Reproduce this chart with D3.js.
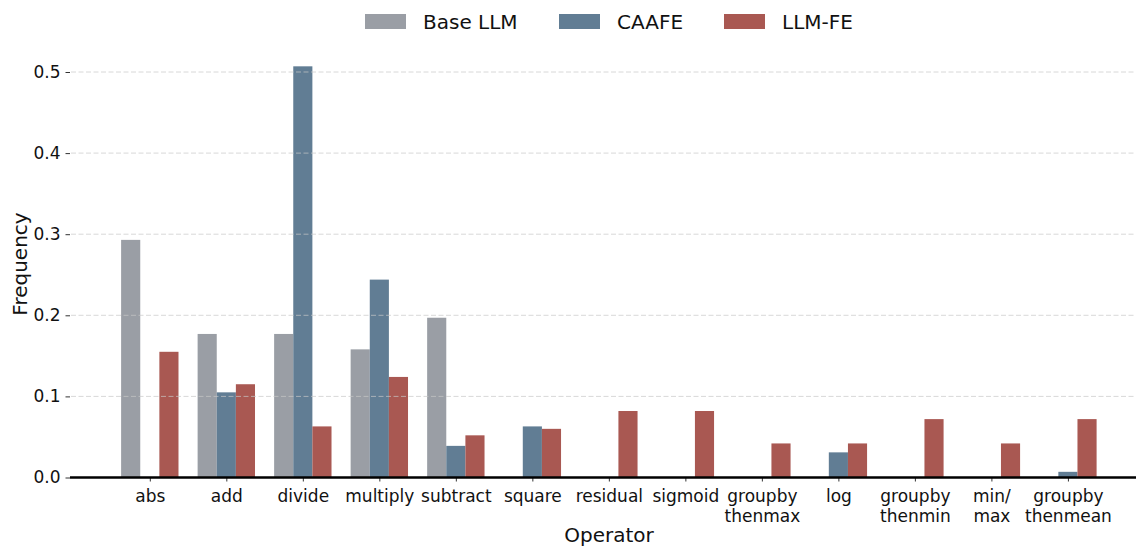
<!DOCTYPE html>
<html><head><meta charset="utf-8">
<script src="https://cdn.jsdelivr.net/npm/d3@7"></script>
<style>body{margin:0;background:#fff;} text{font-family:"DejaVu Sans",sans-serif;fill:#111;}</style>
</head><body><svg id="c" width="1137" height="548"></svg>
<script>
const categories = [["abs"],["add"],["divide"],["multiply"],["subtract"],["square"],["residual"],["sigmoid"],["groupby","thenmax"],["log"],["groupby","thenmin"],["min/","max"],["groupby","thenmean"]];
const seriesNames = ["Base LLM","CAAFE","LLM-FE"];
const baseLLM = [0.293,0.177,0.177,0.158,0.197,0,0,0,0,0,0,0,0];
const caafe   = [0,0.105,0.507,0.244,0.039,0.063,0,0,0,0.031,0,0,0.007];
const llmfe   = [0.155,0.115,0.063,0.124,0.052,0.060,0.082,0.082,0.042,0.042,0.072,0.042,0.072];
const yTicks = [0.0,0.1,0.2,0.3,0.4,0.5];
const colors = ["#9a9ea5","#617d94","#a95852"];
const series = [baseLLM, caafe, llmfe];

const svg = d3.select("#c");
const x = d3.scaleLinear().domain([-1.03, 12.89]).range([71, 1136]);
const y = d3.scaleLinear().domain([0, 0.5]).range([477.5, 72]);
const bw = x(0.25) - x(0);

series.forEach((vals, s) => {
  svg.append("g").selectAll("rect").data(vals).join("rect")
    .attr("x", (d,i) => x(i + (s-1)*0.25 - 0.125))
    .attr("width", bw)
    .attr("y", d => y(d))
    .attr("height", d => y(0) - y(d))
    .attr("fill", colors[s]);
});

svg.append("g").selectAll("line").data(yTicks.filter(t => t > 0)).join("line")
  .attr("x1", 71).attr("x2", 1136)
  .attr("y1", d => y(d)).attr("y2", d => y(d))
  .attr("stroke", "#c8c8c8").attr("stroke-opacity", 0.7)
  .attr("stroke-width", 1).attr("stroke-dasharray", "5,2.5");

const yAxis = d3.axisLeft(y).tickValues(yTicks).tickFormat(d3.format(".1f")).tickSize(4.5).tickPadding(5);
const gy = svg.append("g").attr("transform", "translate(70,0)").call(yAxis);
gy.select(".domain").remove();
gy.selectAll(".tick line").attr("stroke", "#333").attr("stroke-width", 1);
gy.selectAll(".tick text").style("font-size", "17px").attr("fill", "#111");

const xAxis = d3.axisBottom(x).tickValues(d3.range(categories.length)).tickFormat(() => "").tickSize(4).tickPadding(4);
const gx = svg.append("g").attr("transform", "translate(0,477.5)").call(xAxis);
gx.select(".domain").remove();
gx.selectAll(".tick line").attr("stroke", "#333").attr("stroke-width", 1);
gx.selectAll(".tick").each(function(d, i) {
  const t = d3.select(this).append("text").attr("text-anchor", "middle").attr("fill", "#111")
    .style("font-size", "17px");
  categories[i].forEach((line, k) => {
    t.append("tspan").attr("x", 0).attr("y", 24 + k * 20).text(line);
  });
});
svg.append("line").attr("x1", 70).attr("x2", 1136).attr("y1", 477.5).attr("y2", 477.5)
  .attr("stroke", "#000").attr("stroke-width", 2.5);

svg.append("text").attr("x", 609).attr("y", 542).attr("text-anchor", "middle")
  .style("font-size", "20px").text("Operator");
svg.append("text").attr("transform", "translate(27,264) rotate(-90)").attr("text-anchor", "middle")
  .style("font-size", "20px").text("Frequency");

const legX = [365, 559, 724];
seriesNames.forEach((n, i) => {
  svg.append("rect").attr("x", legX[i]).attr("y", 14).attr("width", 41).attr("height", 15).attr("fill", colors[i]);
  svg.append("text").attr("x", legX[i] + 58).attr("y", 28.5).style("font-size", "20px").text(n);
});
</script></body></html>
